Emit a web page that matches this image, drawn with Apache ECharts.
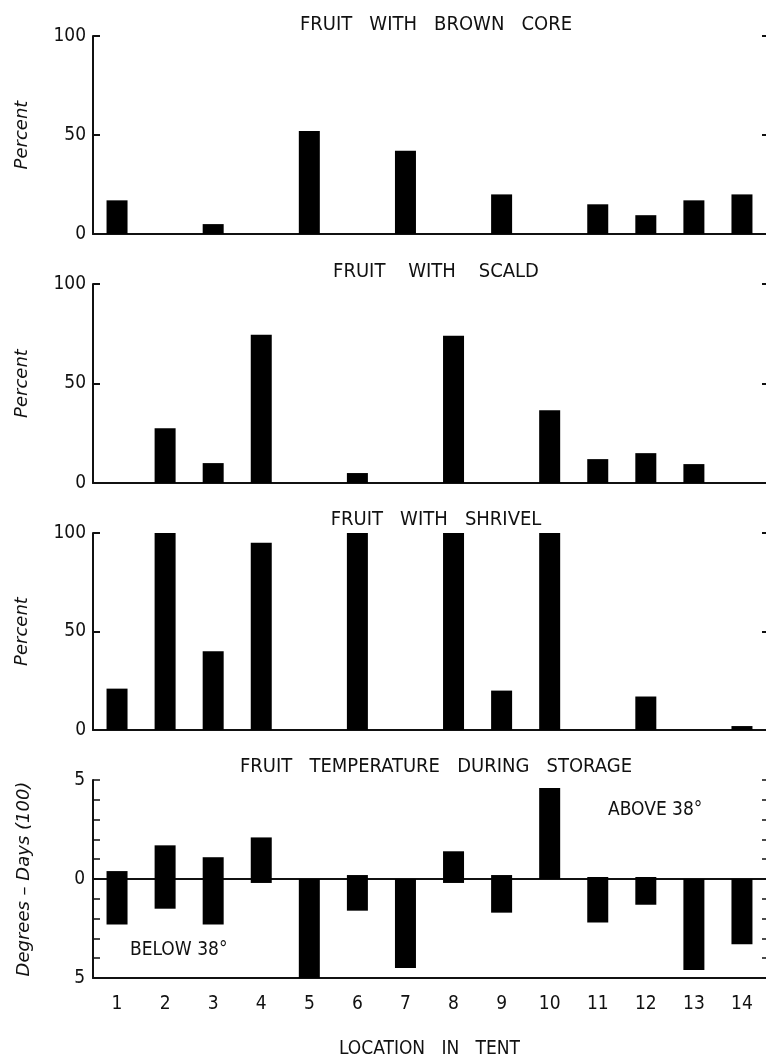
<!DOCTYPE html>
<html>
<head>
<meta charset="utf-8">
<script src="https://cdn.jsdelivr.net/npm/echarts@6/dist/echarts.min.js"></script>
<style>
html,body{margin:0;padding:0;background:#fff;}
#chart{width:766px;height:1063px;}
</style>
</head>
<body>
<div id="chart"></div>
<script>
var locations=['1','2','3','4','5','6','7','8','9','10','11','12','13','14'];
var brownCore=[17,0,5,0,52,0,42,0,20,0,15,9.5,17,20];
var scald=[0,27.5,10,74.5,0,5,0,74,0,36.5,12,15,9.5,0];
var shrivel=[21,100,40,95,0,100,0,100,20,100,0,17,0,2];
var aboveTemp=[0.4,1.7,1.1,2.1,0,0.2,0,1.4,0.2,4.6,0.1,0.1,0,0];
var belowTemp=[-2.3,-1.5,-2.3,-0.2,-5,-1.6,-4.5,-0.2,-1.7,0,-2.2,-1.3,-4.6,-3.3];
var panelTitles=['FRUIT   WITH   BROWN   CORE','FRUIT    WITH    SCALD','FRUIT   WITH   SHRIVEL','FRUIT   TEMPERATURE   DURING   STORAGE'];

var font='"DejaVu Sans Condensed","DejaVu Sans",sans-serif';
var italicFont='"DejaVu Sans",sans-serif';
var ink='#111';
var tops=[36,284,533,780];
var heights=[198,199,197,198];
var titleTops=[10,257,505,752];

var grids=[],xAxes=[],yAxes=[],titles=[],series=[];

for(var i=0;i<4;i++){
	grids.push({left:93,right:0,top:tops[i],height:heights[i]});
	titles.push({
		text:panelTitles[i],left:431,top:titleTops[i],textAlign:'center',
		textStyle:{fontFamily:font,fontSize:20,fontWeight:'normal',color:ink}
	});
}

// x axes for the three percent panels
for(i=0;i<3;i++){
	xAxes.push({
		type:'category',gridIndex:i,data:locations,
		axisLine:{lineStyle:{color:ink,width:2}},
		axisTick:{show:false},axisLabel:{show:false}
	});
}
// bottom panel: labelled axis at the bottom
xAxes.push({
	type:'category',gridIndex:3,data:locations,position:'bottom',
	axisLine:{onZero:false,lineStyle:{color:ink,width:2}},
	axisTick:{show:false},
	axisLabel:{fontFamily:font,fontSize:19,color:ink,margin:17},
	name:'LOCATION   IN   TENT',nameLocation:'middle',nameGap:62,
	nameTextStyle:{fontFamily:font,fontSize:19,color:ink}
});
// bottom panel: zero line
xAxes.push({
	type:'category',gridIndex:3,data:locations,
	axisLine:{onZero:true,lineStyle:{color:ink,width:2}},
	axisTick:{show:false},axisLabel:{show:false}
});

for(i=0;i<3;i++){
	yAxes.push({
		type:'value',gridIndex:i,min:0,max:100,interval:50,
		axisLine:{show:true,lineStyle:{color:ink,width:2}},
		axisTick:{show:true,inside:true,length:7,lineStyle:{color:ink,width:2}},
		axisLabel:{fontFamily:font,fontSize:19,color:ink,margin:7},
		splitLine:{show:false},
		name:'Percent',nameLocation:'middle',nameGap:62,
		nameTextStyle:{fontFamily:italicFont,fontSize:18,fontStyle:'italic',color:ink}
	});
	yAxes.push({
		type:'value',gridIndex:i,position:'right',min:0,max:100,interval:50,
		axisLine:{show:false},
		axisTick:{show:true,inside:true,length:4,lineStyle:{color:ink,width:2}},
		axisLabel:{show:false},splitLine:{show:false}
	});
}
yAxes.push({
	type:'value',gridIndex:3,min:-5,max:5,interval:1,
	axisLine:{show:true,onZero:false,lineStyle:{color:ink,width:2}},
	axisTick:{show:true,inside:true,length:7,lineStyle:{color:ink,width:1.5}},
	axisLabel:{fontFamily:font,fontSize:19,color:ink,margin:8,
		formatter:function(v){return (v===5||v===0||v===-5)?String(Math.abs(v)):'';}},
	splitLine:{show:false},
	name:'Degrees – Days (100)',nameLocation:'middle',nameGap:60,
	nameTextStyle:{fontFamily:italicFont,fontSize:18,fontStyle:'italic',color:ink}
});
yAxes.push({
	type:'value',gridIndex:3,position:'right',min:-5,max:5,interval:1,
	axisLine:{show:false},
	axisTick:{show:true,inside:true,length:4,lineStyle:{color:ink,width:1.5}},
	axisLabel:{show:false},splitLine:{show:false}
});

var pctData=[brownCore,scald,shrivel];
for(i=0;i<3;i++){
	series.push({
		type:'bar',xAxisIndex:i,yAxisIndex:i*2,data:pctData[i],
		barWidth:21,itemStyle:{color:'#000'}
	});
}
series.push({
	type:'bar',name:'above',xAxisIndex:3,yAxisIndex:6,data:aboveTemp,stack:'temp',
	barWidth:21,itemStyle:{color:'#000'}
});
series.push({
	type:'bar',name:'below',xAxisIndex:3,yAxisIndex:6,data:belowTemp,stack:'temp',
	barWidth:21,itemStyle:{color:'#000'}
});

var chart=echarts.init(document.getElementById('chart'));
chart.setOption({
	backgroundColor:'#fff',
	animation:false,
	title:titles,
	grid:grids,
	xAxis:xAxes,
	yAxis:yAxes,
	series:series,
	graphic:[
		{type:'text',left:608,top:801,style:{text:'ABOVE 38°',fontFamily:font,fontSize:19,fill:ink}},
		{type:'text',left:130,top:941,style:{text:'BELOW 38°',fontFamily:font,fontSize:19,fill:ink}}
	]
});
</script>
</body>
</html>
